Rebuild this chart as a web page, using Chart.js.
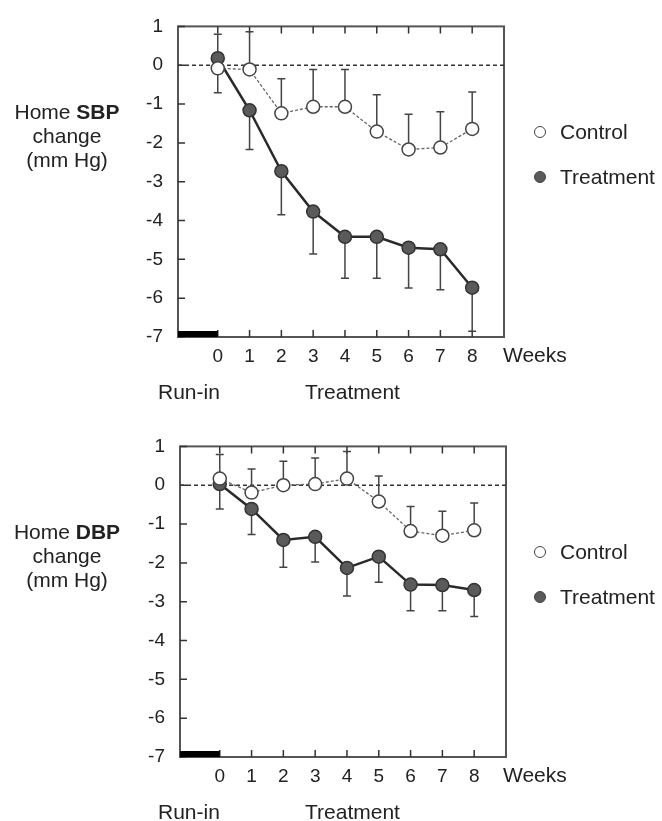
<!DOCTYPE html>
<html>
<head>
<meta charset="utf-8">
<script src="https://cdn.jsdelivr.net/npm/chart.js@4.4.1/dist/chart.umd.min.js"></script>
<style>
body { margin: 0; background: #fff; font-family: "Liberation Sans", Arial, sans-serif; color: #222; }
#wrap { position: relative; width: 662px; height: 821px; overflow: hidden; }
.panel { position: absolute; left: 0; width: 662px; height: 420px; }
.lbl { position: absolute; font-size: 21px; white-space: nowrap; line-height: 24px; }
.ytitle { text-align: center; width: 140px; margin-left: -70px; }
.dot { position: absolute; width: 10px; height: 10px; border-radius: 50%; border: 1.5px solid #444; margin: -6.5px 0 0 -6.5px; }
</style>
</head>
<body>
<div id="wrap">
  <div class="panel" style="top:0"><canvas id="sbp" width="662" height="420"></canvas></div>
  <div class="panel" style="top:420px"><canvas id="dbp" width="662" height="420"></canvas></div>
</div>
<script>
var weeks = [0, 1, 2, 3, 4, 5, 6, 7, 8];
var yTicks = [-7, -6, -5, -4, -3, -2, -1, 0, 1];

var sbpControl = [-0.08, -0.11, -1.24, -1.07, -1.07, -1.71, -2.17, -2.12, -1.64];
var sbpControlUpper = [0.80, 0.86, -0.35, -0.11, -0.11, -0.76, -1.26, -1.20, -0.69];
var sbpTreatment = [0.18, -1.16, -2.73, -3.77, -4.42, -4.42, -4.70, -4.74, -5.73];
var sbpTreatmentLower = [-0.71, -2.17, -3.85, -4.86, -5.49, -5.49, -5.74, -5.78, -6.85];

var dbpControl = [0.17, -0.19, 0.00, 0.03, 0.17, -0.42, -1.18, -1.30, -1.16];
var dbpControlUpper = [0.79, 0.42, 0.62, 0.70, 0.87, 0.24, -0.55, -0.67, -0.46];
var dbpTreatment = [0.03, -0.61, -1.41, -1.33, -2.13, -1.84, -2.56, -2.57, -2.70];
var dbpTreatmentLower = [-0.61, -1.27, -2.11, -1.98, -2.85, -2.50, -3.23, -3.23, -3.38];

var ink = '#333';

// frame, inward ticks, dashed zero line, run-in bar and error bars
var extras = {
  id: 'extras',
  beforeDatasetsDraw: function (chart) {
    var c = chart.ctx, a = chart.chartArea;
    var xs = chart.scales.x, ys = chart.scales.y;
    c.save();
    c.strokeStyle = '#555';
    c.lineWidth = 2;
    c.strokeRect(a.left, a.top, a.right - a.left, a.bottom - a.top);

    c.lineWidth = 1.5;
    c.strokeStyle = ink;
    c.beginPath();
    weeks.forEach(function (w) {
      var px = xs.getPixelForValue(w);
      c.moveTo(px, a.top); c.lineTo(px, a.top + 7);
      c.moveTo(px, a.bottom); c.lineTo(px, a.bottom - 7);
    });
    yTicks.forEach(function (v) {
      var py = ys.getPixelForValue(v);
      c.moveTo(a.left, py); c.lineTo(a.left + 7, py);
    });
    c.stroke();

    // zero reference
    c.setLineDash([4, 3]);
    c.beginPath();
    c.moveTo(a.left, ys.getPixelForValue(0));
    c.lineTo(a.right, ys.getPixelForValue(0));
    c.stroke();
    c.setLineDash([]);

    // run-in bar
    c.fillStyle = '#000';
    var x0 = xs.getPixelForValue(0);
    c.fillRect(a.left, a.bottom - 6, x0 - a.left, 6);

    // error bars
    c.strokeStyle = '#444';
    c.lineWidth = 1.5;
    chart.data.datasets.forEach(function (ds) {
      ds.data.forEach(function (p, i) {
        var px = xs.getPixelForValue(p.x);
        var y1 = ys.getPixelForValue(p.y);
        var y2 = ys.getPixelForValue(ds.errTo[i]);
        c.beginPath();
        c.moveTo(px, y1); c.lineTo(px, y2);
        c.moveTo(px - 4, y2); c.lineTo(px + 4, y2);
        c.stroke();
      });
    });
    c.restore();
  }
};

function makePanel(id, control, controlUp, treat, treatLow, shiftX) {
  var yw = 40, xh = 40;
  new Chart(document.getElementById(id), {
    type: 'line',
    data: {
      datasets: [
        {
          label: 'Control',
          data: weeks.map(function (w, i) { return { x: w, y: control[i] }; }),
          errTo: controlUp,
          borderColor: '#666',
          borderWidth: 1.3,
          borderDash: [3, 2],
          pointRadius: 6.5,
          pointBackgroundColor: '#fff',
          pointBorderColor: '#444',
          pointBorderWidth: 1.5
        },
        {
          label: 'Treatment',
          data: weeks.map(function (w, i) { return { x: w, y: treat[i] }; }),
          errTo: treatLow,
          borderColor: '#2a2a2a',
          borderWidth: 2.5,
          pointRadius: 6.5,
          pointBackgroundColor: '#5a5a5a',
          pointBorderColor: '#333',
          pointBorderWidth: 1.5
        }
      ]
    },
    options: {
      responsive: false,
      animation: false,
      clip: false,
      layout: { padding: { top: 22, left: 178 + shiftX - yw, right: 158 - shiftX, bottom: 420 - 337 - xh } },
      plugins: { legend: { display: false }, tooltip: { enabled: false } },
      scales: {
        x: {
          type: 'linear', min: -1.25, max: 9,
          afterBuildTicks: function (s) { s.ticks = weeks.map(function (v) { return { value: v }; }); },
          afterFit: function (s) { s.height = xh; },
          grid: { display: false, drawTicks: false },
          border: { display: false },
          ticks: { color: '#222', font: { family: 'Liberation Sans', size: 19 }, padding: 8, maxRotation: 0 }
        },
        y: {
          type: 'linear', min: -7, max: 1,
          afterBuildTicks: function (s) { s.ticks = yTicks.map(function (v) { return { value: v }; }); },
          afterFit: function (s) { s.width = yw; },
          grid: { display: false, drawTicks: false },
          border: { display: false },
          ticks: { color: '#222', font: { family: 'Liberation Sans', size: 19 }, padding: 15 }
        }
      }
    },
    plugins: [extras]
  });
}

makePanel('sbp', sbpControl, sbpControlUpper, sbpTreatment, sbpTreatmentLower, 0);
makePanel('dbp', dbpControl, dbpControlUpper, dbpTreatment, dbpTreatmentLower, 2);

// text labels around each panel
var wrap = document.getElementById('wrap');
function addLabel(html, cls, left, top) {
  var d = document.createElement('div');
  d.className = 'lbl ' + (cls || '');
  d.innerHTML = html;
  d.style.left = left + 'px';
  d.style.top = top + 'px';
  wrap.appendChild(d);
  return d;
}
function addDot(left, top, fill) {
  var d = document.createElement('div');
  d.className = 'dot';
  d.style.left = left + 'px';
  d.style.top = top + 'px';
  d.style.background = fill;
  wrap.appendChild(d);
}
[['SBP', 0], ['DBP', 420]].forEach(function (p) {
  var oy = p[1];
  addLabel('Home <b>' + p[0] + '</b><br>change<br>(mm Hg)', 'ytitle', 67, 100 + oy);
  addDot(540, 132 + oy, '#fff');
  addLabel('Control', '', 560, 120 + oy);
  addDot(540, 177 + oy, '#5a5a5a');
  addLabel('Treatment', '', 560, 165 + oy);
  addLabel('Weeks', '', 503, 343 + oy);
  addLabel('Run-in', '', 158, 380 + oy);
  addLabel('Treatment', '', 305, 380 + oy);
});
</script>
</body>
</html>
